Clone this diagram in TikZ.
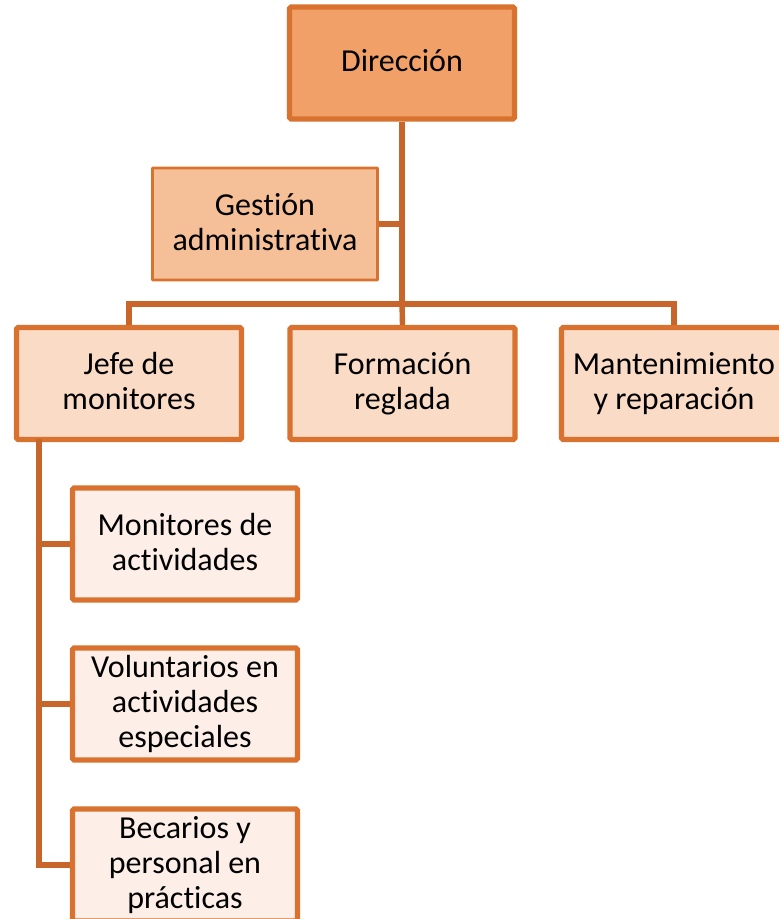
\documentclass[tikz,border=0pt]{standalone}
\usepackage{fontspec}
\setmainfont{Carlito}[RawFeature={-liga;-calt;-clig;-dlig}]
\definecolor{boxline}{HTML}{D9722F}
\definecolor{connline}{HTML}{C8652A}
\definecolor{fillA}{HTML}{F1A167}
\definecolor{fillB}{HTML}{F5BF98}
\definecolor{fillC}{HTML}{F9DBC6}
\definecolor{fillD}{HTML}{FDEFE7}
\newcommand\topln{\rule{0pt}{26pt}}
\newcommand\botln{\rule[-9pt]{0pt}{9pt}}
\newcommand\nl{\kern0pt }
\tikzset{
  orgbox/.style={draw=boxline, line width=5.2pt, rounded corners=1.5pt,
    minimum width=225pt, minimum height=112pt, align=center, inner sep=0pt,
    font=\fontsize{32}{35}\selectfont, text=black},
  topbox/.style={orgbox, fill=fillA},
  staffbox/.style={orgbox, fill=fillB, line width=2.8pt, rounded corners=0.5pt},
  midbox/.style={orgbox, fill=fillC},
  lowbox/.style={orgbox, fill=fillD},
  conn/.style={draw=connline, line width=5.4pt}
}
\begin{document}
\begin{tikzpicture}[x=1pt,y=-1pt]
\useasboundingbox (0,0) rectangle (779,919);
\clip (0,0) rectangle (779,919);
\node[topbox] (dir) at (402,63) {\topln Dirección\botln};
\node[staffbox] (ges) at (265,224) {\topln Gest\nl ión\\administrat\nl iva\botln};
\node[midbox] (jefe) at (129,383.5) {\topln Jefe de\\monitores\botln};
\node[midbox] (form) at (402.5,383.5) {\topln Formación\\reglada\botln};
\node[midbox] (mant) at (674,383.5) {\topln Mantenimiento\\y reparación\botln};
\node[lowbox] (mon) at (185,544) {\topln Monitores de\\act\nl ividades\botln};
\node[lowbox] (vol) at (185,704) {\topln Voluntarios en\\act\nl ividades\\especiales\botln};
\node[lowbox] (bec) at (185,865) {\topln Becarios y\\personal en\\práct\nl icas\botln};
\coordinate (bar) at (402,304);
\coordinate (trunk) at (39,439);
\draw[conn] (dir.south) -- (bar);
\draw[conn] (bar) -- (form.north);
\draw[conn] (ges.east) -- (ges.east -| dir.south);
\draw[conn] (jefe.north) |- (bar) -| (mant.north);
\draw[conn] (trunk) |- (mon.west);
\draw[conn] (trunk) |- (vol.west);
\draw[conn] (trunk) |- (bec.west);
\end{tikzpicture}
\end{document}
